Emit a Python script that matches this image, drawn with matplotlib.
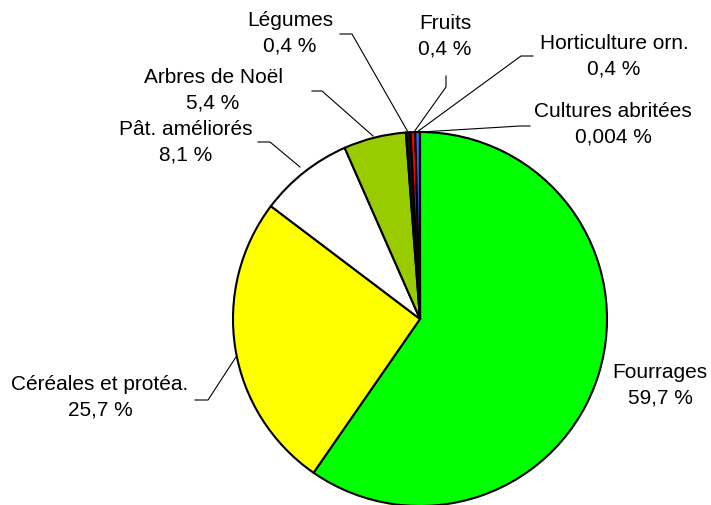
# Pie chart - repartition des surfaces

import matplotlib.pyplot as plt

plt.rcParams['font.family'] = ['Liberation Sans', 'DejaVu Sans']

labels = ['Fourrages', 'Céréales et protéa.', 'Pât. améliorés', 'Arbres de Noël',
          'Légumes', 'Fruits', 'Horticulture orn.', 'Cultures abritées']
values = [59.7, 25.7, 8.1, 5.4, 0.4, 0.4, 0.4, 0.004]
pct_text = ['59,7 %', '25,7 %', '8,1 %', '5,4 %', '0,4 %', '0,4 %', '0,4 %', '0,004 %']
colors = ['#00FF00', '#FFFF00', '#FFFFFF', '#99CC00', '#111111', '#FF0000', '#3366FF', '#00CCFF']

W = 711; H = 506

fig = plt.figure(figsize=(W / 100, H / 100), dpi=100)
ax = fig.add_axes([0, 0, 1, 1])

cx = 420; cy = H - 320; r = 187
ax.pie(values, colors=colors, startangle=90, counterclock=False,
       center=(cx, cy), radius=r, frame=True,
       wedgeprops=dict(edgecolor='black', linewidth=1.5))
ax.set_xlim(0, W)
ax.set_ylim(0, H)
ax.set_aspect('equal')
ax.axis('off')

# label positions (text centre, pixel coords y down) and leader lines
lab_pos = {
    'Fourrages': (660, 385),
    'Céréales et protéa.': (100, 397),
    'Pât. améliorés': (186, 142),
    'Arbres de Noël': (213, 90),
    'Légumes': (290, 33),
    'Fruits': (445, 36),
    'Horticulture orn.': (614, 56),
    'Cultures abritées': (613, 124),
}
leaders = {
    'Céréales et protéa.': [(195, 401), (208, 401), (236, 358)],
    'Pât. améliorés': [(258, 143), (270, 143), (300, 168)],
    'Arbres de Noël': [(312, 92), (322, 92), (373, 137)],
    'Légumes': [(340, 35), (352, 35), (408, 133)],
    'Fruits': [(446, 77), (446, 88), (414, 133)],
    'Horticulture orn.': [(533, 57), (521, 57), (417, 133)],
    'Cultures abritées': [(530, 127), (520, 127), (421, 133)],
}

for lab, pct in zip(labels, pct_text):
    x, y = lab_pos[lab]
    ax.text(x, H - y, lab + '\n' + pct, ha='center', va='center',
            fontsize=15, linespacing=1.42)
    if lab in leaders:
        pts = leaders[lab]
        ax.plot([p[0] for p in pts], [H - p[1] for p in pts], color='black', lw=0.8)

fig.savefig('out.png', dpi=100)
